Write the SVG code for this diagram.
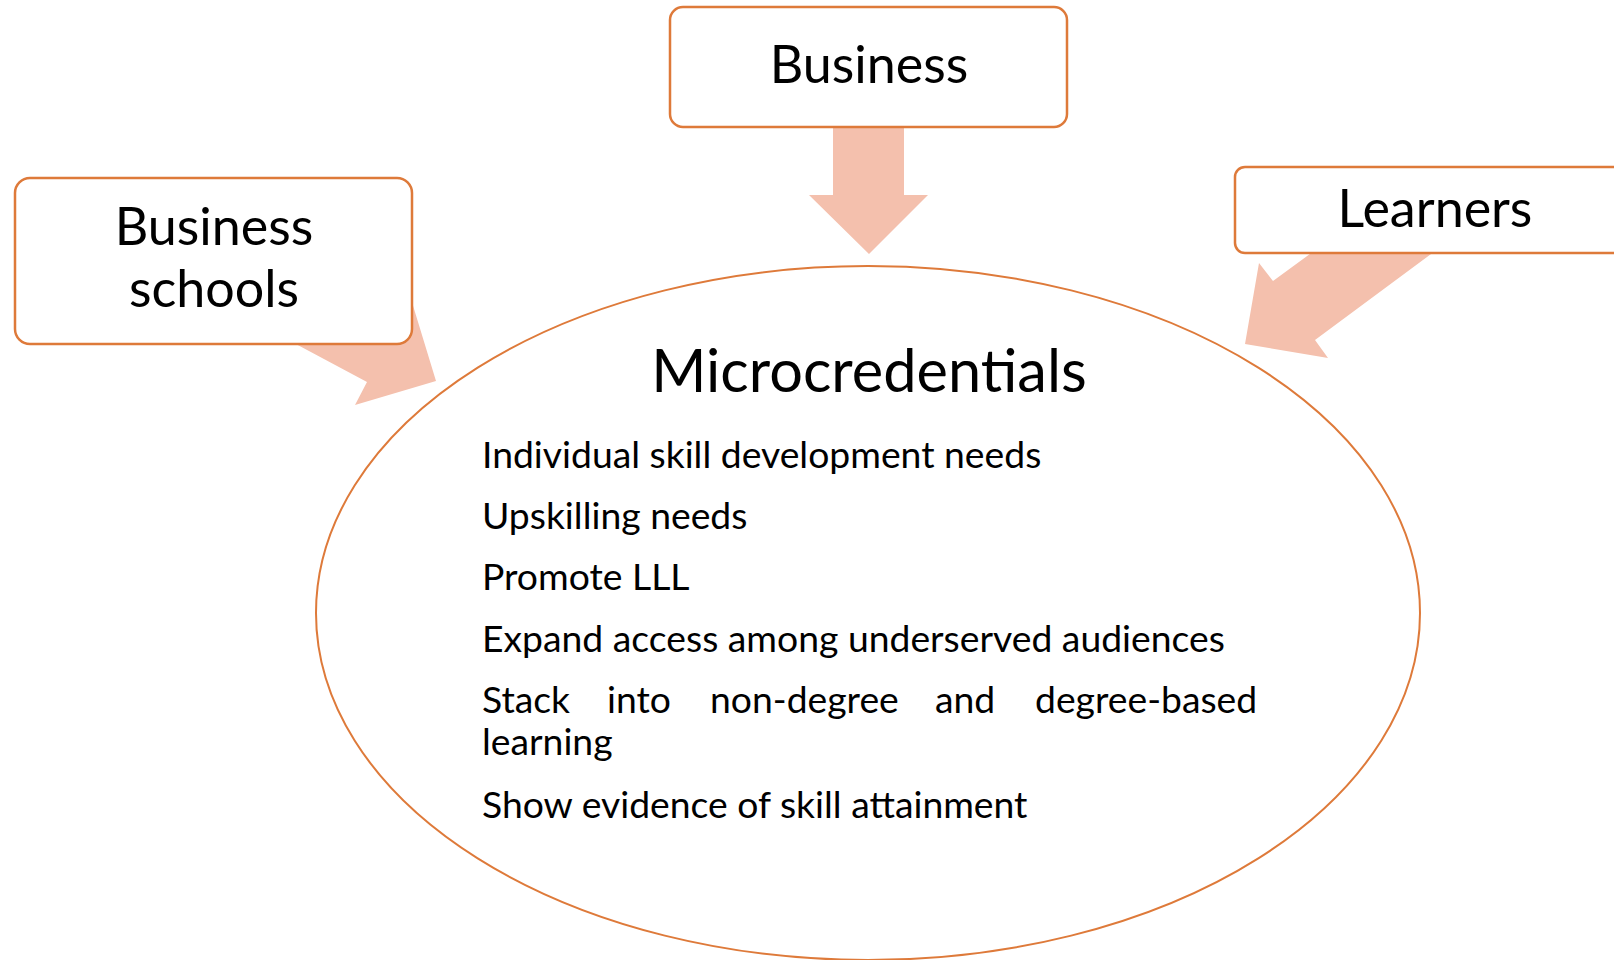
<svg xmlns="http://www.w3.org/2000/svg" width="1614" height="960" viewBox="0 0 1614 960">
  <style>
    .box { fill: #ffffff; stroke: #DE7A3A; stroke-width: 2.5; }
    .arrow { fill: #F4C0AD; stroke: none; }
    .lbl { font-family: Lato, "Open Sans", sans-serif; font-size: 52px; fill: #000000; text-anchor: middle; }
    .title { font-family: Lato, "Open Sans", sans-serif; font-size: 59.5px; fill: #000000; text-anchor: middle; }
    .item { font-family: Lato, "Open Sans", sans-serif; font-size: 37.3px; fill: #000000; }
  </style>
  <rect width="1614" height="960" fill="#ffffff"/>
  <g id="connectors">
    <polygon class="arrow" points="833,120 833,195 809,195 869,254 928,195 904,195 904,120"/>
    <polygon class="arrow" points="311,275 399,322 411,299 436,381 355,405 367,382 279,335"/>
    <polygon class="arrow" points="1370,210 1273,281 1259,263 1245,344 1328,358 1315,340 1481,217"/>
  </g>
  <g id="microcredentials">
    <ellipse cx="868" cy="613" rx="552" ry="347" fill="none" stroke="#DE7A3A" stroke-width="2"/>
    <text class="title" x="869" y="392">Microcredentials</text>
    <text class="item" x="482" y="468">Individual skill development needs</text>
    <text class="item" x="482" y="529">Upskilling needs</text>
    <text class="item" x="482" y="590">Promote LLL</text>
    <text class="item" x="482" y="652">Expand access among underserved audiences</text>
    <text class="item" y="713"><tspan x="482">Stack</tspan><tspan x="607">into</tspan><tspan x="710">non-degree</tspan><tspan x="935">and</tspan><tspan x="1035">degree-based</tspan></text>
    <text class="item" x="482" y="755">learning</text>
    <text class="item" x="482" y="818">Show evidence of skill attainment</text>
  </g>
  <g id="business-schools">
    <rect class="box" x="15" y="178" width="397" height="166" rx="15"/>
    <text class="lbl" x="214" y="245">Business</text>
    <text class="lbl" x="214" y="307">schools</text>
  </g>
  <g id="business">
    <rect class="box" x="670" y="7" width="397" height="120" rx="13"/>
    <text class="lbl" x="869" y="83">Business</text>
  </g>
  <g id="learners">
    <rect class="box" x="1235" y="167" width="420" height="86" rx="10"/>
    <text class="lbl" x="1435" y="227">Learners</text>
  </g>
</svg>
